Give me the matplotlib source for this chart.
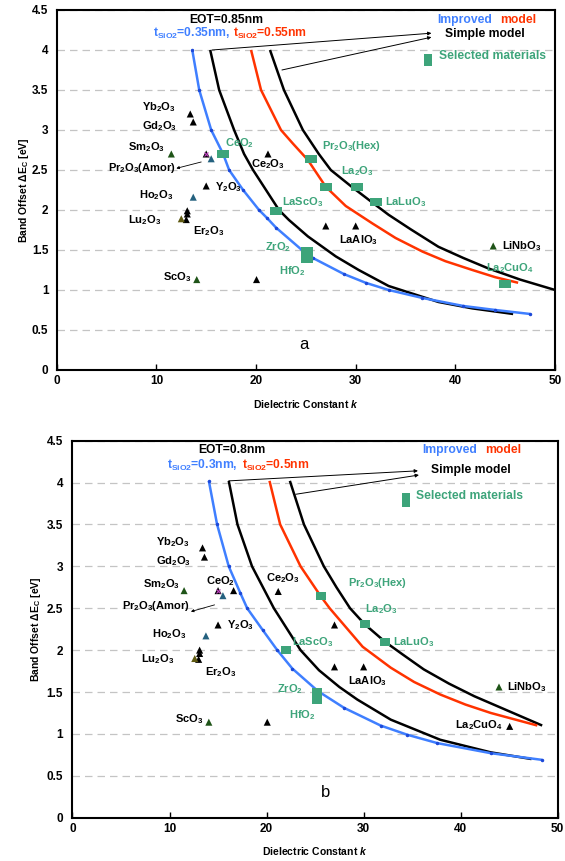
import matplotlib
matplotlib.use("Agg")
import matplotlib.pyplot as plt
from matplotlib.ticker import FormatStrFormatter, MultipleLocator

plt.rcParams["font.family"] = ["Liberation Sans", "DejaVu Sans"]
plt.rcParams["font.weight"] = "bold"
plt.rcParams["mathtext.fontset"] = "custom"
plt.rcParams["mathtext.rm"] = "Liberation Sans:bold"
plt.rcParams["mathtext.bf"] = "Liberation Sans:bold"
plt.rcParams["mathtext.it"] = "Liberation Sans:italic:bold"
plt.rcParams["mathtext.default"] = "bf"

GREEN = "#3da47a"
BLUE = "#3f7fff"
BLUE_DOT = "#1d49d8"
RED = "#ff3300"
DKGREEN = "#1f5418"
TEAL = "#24617f"
OLIVE = "#5f5a12"

# ---- panel a : EOT = 0.85 nm ----
BLUE_A_K = [13.6, 14.3, 15.5, 16.7, 17.3, 18.7, 20.3, 21.1, 22.0, 24.6, 25.7, 28.8, 31.0, 33.3, 36.7, 40.8, 44.0, 47.5]
BLUE_A_E = [4.0, 3.5, 3.0, 2.7, 2.5, 2.25, 2.0, 1.9, 1.78, 1.5, 1.40, 1.2, 1.09, 1.0, 0.9, 0.8, 0.75, 0.7]
BLACK1_A_K = [15.4, 16.3, 17.8, 18.8, 19.7, 21.0, 22.3, 23.3, 25.2, 28.0, 30.3, 33.3, 38.3, 41.7, 45.8]
BLACK1_A_E = [4.0, 3.5, 3.0, 2.7, 2.5, 2.25, 2.0, 1.875, 1.67, 1.42, 1.25, 1.05, 0.85, 0.77, 0.70]
RED_A_K = [19.5, 20.5, 22.5, 23.7, 25.2, 26.3, 27.0, 29.0, 31.7, 34.0, 36.7, 39.0, 41.7, 44.0, 46.3]
RED_A_E = [4.0, 3.5, 3.0, 2.83, 2.625, 2.42, 2.29, 2.05, 1.83, 1.65, 1.48, 1.36, 1.25, 1.16, 1.09]
BLACK2_A_K = [21.4, 22.8, 24.7, 26.3, 27.5, 29.6, 31.6, 33.3, 35.5, 38.3, 40.8, 43.3, 46.5, 50.0]
BLACK2_A_E = [4.0, 3.5, 3.0, 2.7, 2.5, 2.29, 2.1, 1.94, 1.76, 1.54, 1.4, 1.27, 1.13, 1.0]

TRI_A_K = [13.4, 13.7, 11.5, 15.0, 15.5, 21.2, 15.0, 13.7, 13.1, 13.1, 13.0, 12.5, 14.05, 20.05, 27.0, 30.0, 43.8]
TRI_A_E = [3.2, 3.1, 2.7, 2.7, 2.64, 2.7, 2.3, 2.16, 1.99, 1.95, 1.88, 1.89, 1.13, 1.13, 1.8, 1.8, 1.55]
TRI_A_C = ["k", "k", DKGREEN, "k", TEAL, "k", "k", TEAL, "k", "k", "k", OLIVE, DKGREEN, "k", "k", "k", DKGREEN]

SQ_A_K = [16.7, 22.05, 25.1, 25.1, 25.5, 27.0, 30.1, 32.0, 45.0]
SQ_A_E = [2.7, 1.99, 1.49, 1.39, 2.64, 2.29, 2.29, 2.10, 1.08]

# ---- panel b : EOT = 0.8 nm ----
BLUE_B_K = [14.05, 14.9, 16.1, 17.3, 18.0, 19.6, 21.1, 22.65, 25.3, 28.0, 31.75, 34.5, 37.6, 43.1, 48.4]
BLUE_B_E = [4.02, 3.5, 3.0, 2.68, 2.5, 2.24, 2.0, 1.78, 1.51, 1.31, 1.10, 0.99, 0.89, 0.77, 0.69]
BLACK1_B_K = [16.1, 17.0, 18.5, 20.75, 23.5, 25.4, 27.5, 29.35, 32.8, 37.9, 43.1, 47.3]
BLACK1_B_E = [4.02, 3.5, 3.0, 2.5, 2.0, 1.76, 1.56, 1.41, 1.17, 0.93, 0.78, 0.70]
RED_B_K = [20.3, 21.4, 23.5, 25.6, 26.5, 29.9, 32.8, 35.2, 37.9, 40.5, 43.1, 47.9]
RED_B_E = [4.02, 3.5, 3.0, 2.64, 2.5, 2.04, 1.79, 1.62, 1.47, 1.35, 1.25, 1.10]
BLACK2_B_K = [22.4, 23.85, 25.9, 27.2, 28.6, 30.1, 32.2, 34.0, 36.2, 38.8, 41.4, 45.0, 48.4]
BLACK2_B_E = [4.02, 3.5, 3.0, 2.75, 2.5, 2.31, 2.10, 1.95, 1.77, 1.60, 1.45, 1.27, 1.10]

TRI_B_K = [13.4, 13.6, 11.5, 15.0, 15.5, 16.6, 21.2, 15.0, 13.75, 13.1, 13.1, 13.0, 12.6, 14.05, 20.07, 27.0, 27.0, 30.0, 43.95, 45.05]
TRI_B_E = [3.22, 3.11, 2.71, 2.71, 2.65, 2.71, 2.70, 2.30, 2.17, 2.0, 1.96, 1.89, 1.90, 1.14, 1.14, 2.30, 1.80, 1.80, 1.56, 1.09]
TRI_B_C = ["k", "k", DKGREEN, "k", TEAL, "k", "k", "k", TEAL, "k", "k", "k", OLIVE, DKGREEN, "k", "k", "k", "k", DKGREEN, "k"]

SQ_B_K = [22.0, 25.15, 25.15, 25.6, 30.1, 32.2]
SQ_B_E = [2.0, 1.495, 1.41, 2.65, 2.31, 2.10]

# text, k, E, horizontal alignment, colour
LABELS_A = [
    ("Yb$_2$O$_3$", 12.0, 3.28, "right", "k"),
    ("Gd$_2$O$_3$", 12.1, 3.05, "right", "k"),
    ("Sm$_2$O$_3$", 10.9, 2.79, "right", "k"),
    ("Pr$_2$O$_3$(Amor)", 11.9, 2.52, "right", "k"),
    ("CeO$_2$", 16.9, 2.83, "left", GREEN),
    ("Ce$_2$O$_3$", 21.2, 2.57, "center", "k"),
    ("Y$_2$O$_3$", 15.9, 2.28, "left", "k"),
    ("Ho$_2$O$_3$", 11.7, 2.19, "right", "k"),
    ("Lu$_2$O$_3$", 10.5, 1.875, "right", "k"),
    ("Er$_2$O$_3$", 13.7, 1.74, "left", "k"),
    ("ScO$_3$", 13.5, 1.16, "right", "k"),
    ("LaScO$_3$", 22.6, 2.10, "left", GREEN),
    ("ZrO$_2$", 23.5, 1.53, "right", GREEN),
    ("HfO$_2$", 23.6, 1.23, "center", GREEN),
    ("Pr$_2$O$_3$(Hex)", 26.6, 2.80, "left", GREEN),
    ("La$_2$O$_3$", 28.5, 2.49, "left", GREEN),
    ("LaLuO$_3$", 32.9, 2.10, "left", GREEN),
    ("LaAlO$_3$", 30.3, 1.625, "center", "k"),
    ("LiNbO$_3$", 44.7, 1.55, "left", "k"),
    ("La$_2$CuO$_4$", 45.5, 1.27, "center", GREEN),
]
LABELS_B = [
    ("Yb$_2$O$_3$", 12.1, 3.29, "right", "k"),
    ("Gd$_2$O$_3$", 12.2, 3.06, "right", "k"),
    ("Sm$_2$O$_3$", 11.1, 2.79, "right", "k"),
    ("Pr$_2$O$_3$(Amor)", 12.1, 2.53, "right", "k"),
    ("CeO$_2$", 15.3, 2.82, "center", "k"),
    ("Ce$_2$O$_3$", 21.7, 2.86, "center", "k"),
    ("Y$_2$O$_3$", 15.9, 2.30, "left", "k"),
    ("Ho$_2$O$_3$", 11.75, 2.19, "right", "k"),
    ("Lu$_2$O$_3$", 10.5, 1.89, "right", "k"),
    ("Er$_2$O$_3$", 13.7, 1.74, "left", "k"),
    ("ScO$_3$", 13.5, 1.18, "right", "k"),
    ("LaScO$_3$", 22.6, 2.10, "left", GREEN),
    ("ZrO$_2$", 23.8, 1.54, "right", GREEN),
    ("HfO$_2$", 23.7, 1.23, "center", GREEN),
    ("Pr$_2$O$_3$(Hex)", 28.4, 2.80, "left", GREEN),
    ("La$_2$O$_3$", 30.1, 2.49, "left", GREEN),
    ("LaLuO$_3$", 33.0, 2.10, "left", GREEN),
    ("LaAlO$_3$", 30.4, 1.63, "center", "k"),
    ("LiNbO$_3$", 44.8, 1.56, "left", "k"),
    ("La$_2$CuO$_4$", 44.3, 1.10, "right", "k"),
]

RECT_WIDE = [(-1, -0.72), (1, -0.72), (1, 0.72), (-1, 0.72)]
RECT_B = [(-1, -0.85), (1, -0.85), (1, 0.85), (-1, 0.85)]
RECT_TALL = [(-0.62, -1), (0.62, -1), (0.62, 1), (-0.62, 1)]
HEAD_FS = 8.7


def draw(ax, curves, tk, te, tc, sk, se, labels, sq_marker, sq_ms, cfg):
    for (k, e), col in zip(curves, ["k", "k", BLUE, RED]):
        ax.plot(k, e, color=col, lw=1.8, solid_capstyle="butt",
                solid_joinstyle="round", zorder=3)
    # blue curve carries its computed points as small dots
    ax.plot(curves[2][0], curves[2][1], ls="none", marker="o", ms=1.5,
            color=BLUE_DOT, zorder=4)
    ax.scatter(tk, te, marker="^", s=26, c=tc, linewidths=0, zorder=5)
    ax.plot(cfg["mag"][0], cfg["mag"][1], ls="none", marker="x", ms=3.5,
            mew=0.8, color="#c040c0", zorder=6)
    ax.plot(sk, se, ls="none", marker=sq_marker, ms=sq_ms, color=GREEN,
            mew=0, zorder=5)
    for txt, x, y, ha, col in labels:
        ax.text(x, y, txt, ha=ha, va="center", color=col, fontsize=8, zorder=7)

    # header: EOT, interfacial SiO2 thickness and legend entries
    ax.text(cfg["eot"][0], cfg["eot"][1], cfg["eot_txt"], ha="center",
            va="center", fontsize=HEAD_FS)
    ax.text(cfg["tb"][0], cfg["tb"][1], cfg["tb_txt"], color=BLUE,
            ha="left", va="center", fontsize=HEAD_FS)
    ax.text(cfg["tr"][0], cfg["tr"][1], cfg["tr_txt"], color=RED,
            ha="left", va="center", fontsize=HEAD_FS)
    ax.text(cfg["imp"][0], cfg["imp"][1], "Improved", color=BLUE,
            ha="left", va="center", fontsize=HEAD_FS)
    ax.text(cfg["mod"][0], cfg["mod"][1], "model", color=RED,
            ha="left", va="center", fontsize=HEAD_FS)
    ax.text(cfg["simple"][0], cfg["simple"][1], "Simple model",
            ha="left", va="center", fontsize=HEAD_FS)
    ax.text(cfg["sel"][0], cfg["sel"][1], "Selected materials", color=GREEN,
            ha="left", va="center", fontsize=HEAD_FS)
    ax.plot(*cfg["sel_sq"], ls="none", marker=RECT_TALL, ms=cfg["sel_ms"],
            color=GREEN, mew=0)
    for start, tip in cfg["arrows"]:
        ax.annotate("", xy=tip, xytext=start,
                    arrowprops=dict(arrowstyle="-|>", lw=0.7, color="k",
                                    mutation_scale=5, shrinkA=0, shrinkB=0))
    ax.annotate("", xy=cfg["amor"][1], xytext=cfg["amor"][0],
                arrowprops=dict(arrowstyle="-|>", lw=0.6, color="k",
                                mutation_scale=4, shrinkA=0, shrinkB=0))
    ax.text(cfg["tag"][0], cfg["tag"][1], cfg["tag_txt"], ha="center",
            va="center", fontsize=12, fontweight="normal")

    ax.set_xlim(0, 50)
    ax.set_ylim(0, 4.5)
    ax.xaxis.set_major_locator(MultipleLocator(10))
    ax.yaxis.set_major_locator(MultipleLocator(0.5))
    ax.yaxis.set_major_formatter(FormatStrFormatter("%g"))
    ax.yaxis.grid(True, ls=(0, (6, 4)), color="#c4c4c4", lw=0.9)
    ax.set_axisbelow(True)
    ax.tick_params(direction="in", length=4, width=1, labelsize=8.5)
    ax.tick_params(axis="y", length=0, pad=cfg["ypad"])
    for lbl in ax.get_xticklabels() + ax.get_yticklabels():
        lbl.set_fontweight("bold")
    for sp in ax.spines.values():
        sp.set_linewidth(1.5)
    ax.set_xlabel(r"Dielectric Constant $\mathit{k}$", fontsize=7.5,
                  fontweight="bold")
    ax.set_ylabel(r"Band Offset ΔE$_C$ [eV]", fontsize=7.5, fontweight="bold")
    ax.xaxis.set_label_coords(0.5, cfg["xl"])
    ax.yaxis.set_label_coords(cfg["yl"], 0.5)


fig = plt.figure(figsize=(5.65, 8.61), dpi=100)
ax_a = fig.add_axes([0.1004, 0.5703, 0.8819, 0.4181])
ax_b = fig.add_axes([0.1283, 0.0503, 0.8588, 0.4379])

draw(ax_a,
     [(BLACK1_A_K, BLACK1_A_E), (BLACK2_A_K, BLACK2_A_E),
      (BLUE_A_K, BLUE_A_E), (RED_A_K, RED_A_E)],
     TRI_A_K, TRI_A_E, TRI_A_C, SQ_A_K, SQ_A_E, LABELS_A, RECT_WIDE, 8,
     dict(mag=([15.0], [2.7]),
          eot=(17.0, 4.375), eot_txt="EOT=0.85nm",
          tb=(9.7, 4.21), tb_txt="t$_{SiO2}$=0.35nm,",
          tr=(17.7, 4.21), tr_txt="t$_{SiO2}$=0.55nm",
          imp=(38.2, 4.375), mod=(44.5, 4.375),
          simple=(39.0, 4.2), sel=(38.4, 3.92),
          sel_sq=([37.3], [3.88]), sel_ms=8.6,
          arrows=[((15.6, 4.0), (37.6, 4.21)), ((22.6, 3.75), (37.6, 4.16))],
          amor=((14.5, 2.6), (12.0, 2.52)),
          tag=(24.8, 0.32), tag_txt="a",
          xl=-0.078, yl=-0.052, ypad=6))

draw(ax_b,
     [(BLACK1_B_K, BLACK1_B_E), (BLACK2_B_K, BLACK2_B_E),
      (BLUE_B_K, BLUE_B_E), (RED_B_K, RED_B_E)],
     TRI_B_K, TRI_B_E, TRI_B_C, SQ_B_K, SQ_B_E, LABELS_B, RECT_B, 7.4,
     dict(mag=([15.0], [2.71]),
          eot=(16.4, 4.39), eot_txt="EOT=0.8nm",
          tb=(9.76, 4.21), tb_txt="t$_{SiO2}$=0.3nm,",
          tr=(17.5, 4.21), tr_txt="t$_{SiO2}$=0.5nm",
          imp=(36.05, 4.39), mod=(42.5, 4.39),
          simple=(36.9, 4.15), sel=(35.4, 3.84),
          sel_sq=([34.4], [3.79]), sel_ms=9.5,
          arrows=[((16.1, 4.02), (35.6, 4.14)), ((23.0, 3.86), (35.7, 4.09))],
          amor=((14.64, 2.54), (12.2, 2.46)),
          tag=(26.1, 0.30), tag_txt="b",
          xl=-0.072, yl=-0.06, ypad=6.8))

fig.savefig("out.png", dpi=100)
